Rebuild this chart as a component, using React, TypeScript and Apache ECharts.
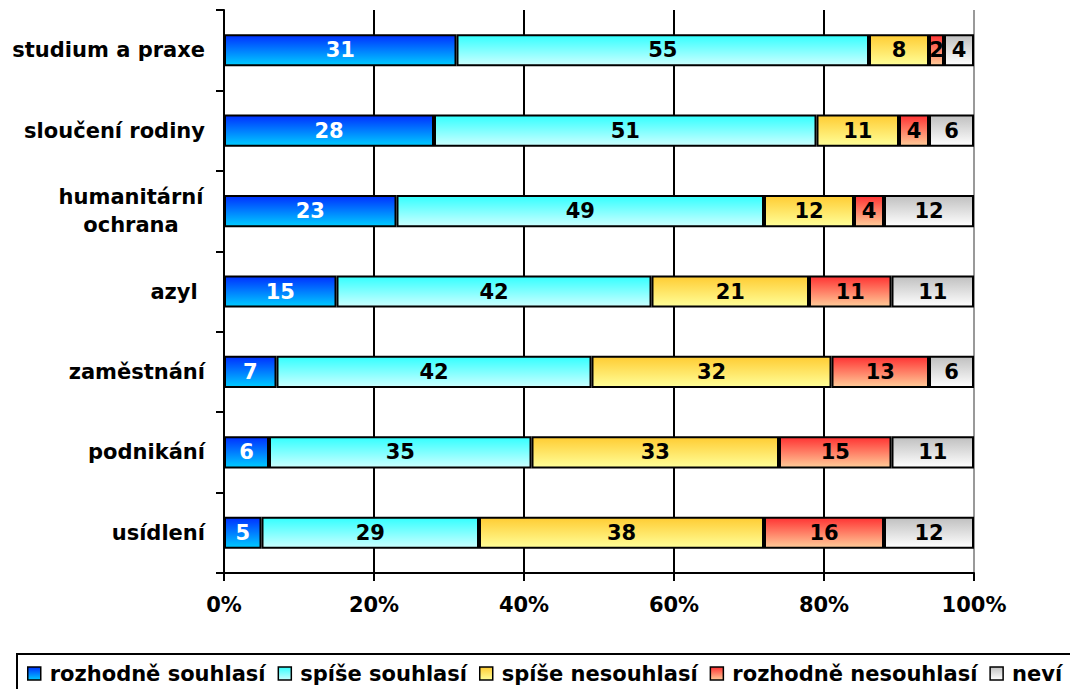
import React, { useEffect, useRef } from "react";
import * as echarts from "echarts";

const categories = [
  "studium a praxe",
  "sloučení rodiny",
  "humanitární\nochrana",
  "azyl ",
  "zaměstnání",
  "podnikání",
  "usídlení",
];
const seriesNames = [
  "rozhodně souhlasí",
  "spíše souhlasí",
  "spíše nesouhlasí",
  "rozhodně nesouhlasí",
  "neví",
];
const rozhodneSouhlasi = [31, 28, 23, 15, 7, 6, 5];
const spiseSouhlasi = [55, 51, 49, 42, 42, 35, 29];
const spiseNesouhlasi = [8, 11, 12, 21, 32, 33, 38];
const rozhodneNesouhlasi = [2, 4, 4, 11, 13, 15, 16];
const nevi = [4, 6, 12, 11, 6, 11, 12];
const xTicks = [0, 20, 40, 60, 80, 100];

const seriesValues = [rozhodneSouhlasi, spiseSouhlasi, spiseNesouhlasi, rozhodneNesouhlasi, nevi];
const gradients: [string, string][] = [
  ["#0030ff", "#00ccff"],
  ["#33ffff", "#ccffff"],
  ["#ffcc33", "#ffff99"],
  ["#ff3333", "#ffcc99"],
  ["#c0c0c0", "#ffffff"],
];
const labelColors = ["#ffffff", "#000000", "#000000", "#000000", "#000000"];

const FONT = "DejaVu Sans";

export default function App() {
  const ref = useRef<HTMLDivElement>(null);
  useEffect(() => {
    if (!ref.current) return;
    const chart = echarts.init(ref.current, null, { renderer: "svg" });
    chart.setOption({
      animation: false,
      textStyle: { fontFamily: FONT },
      grid: { left: 224, right: 96, top: 10, bottom: 116, containLabel: false },
      xAxis: {
        type: "value",
        min: xTicks[0],
        max: xTicks[xTicks.length - 1],
        interval: 20,
        axisLine: { show: true, lineStyle: { color: "#000", width: 2 } },
        axisTick: { show: true, length: 8, lineStyle: { color: "#000", width: 2 } },
        axisLabel: {
          formatter: "{value}%",
          color: "#000",
          fontWeight: "bold",
          fontSize: 21,
          fontFamily: FONT,
          margin: 21,
        },
        splitLine: {
          show: true,
          lineStyle: { color: ["#000", "#000", "#000", "#000", "#000", "#999"], width: 2 },
        },
      },
      yAxis: {
        type: "category",
        inverse: true,
        data: categories.map((c) =>
          c.includes("\n")
            ? { value: c, textStyle: { align: "center", padding: [0, 148, 0, 0] } }
            : c
        ),
        axisLine: { show: true, lineStyle: { color: "#000", width: 2 } },
        axisTick: { show: true, length: 8, lineStyle: { color: "#000", width: 2 } },
        axisLabel: {
          color: "#000",
          fontWeight: "bold",
          fontSize: 21,
          fontFamily: FONT,
          margin: 19,
          lineHeight: 28,
        },
      },
      legend: {
        left: 17,
        top: 654,
        width: 1200,
        orient: "horizontal",
        borderColor: "#000",
        borderWidth: 2,
        padding: [9, 20, 16, 10],
        itemGap: 12,
        itemWidth: 13,
        itemHeight: 13,
        icon: "rect",
        itemStyle: { borderColor: "#000", borderWidth: 1.5 },
        textStyle: {
          color: "#000",
          fontWeight: "bold",
          fontSize: 21,
          fontFamily: FONT,
          padding: [0, 0, 0, 4],
        },
        data: seriesNames,
      },
      series: seriesNames.map((name, i) => ({
        name,
        type: "bar",
        stack: "total",
        barWidth: "40%",
        data: seriesValues[i],
        itemStyle: {
          color: new echarts.graphic.LinearGradient(0, 0, 0, 1, [
            { offset: 0, color: gradients[i][0] },
            { offset: 1, color: gradients[i][1] },
          ]),
          borderColor: "#000",
          borderWidth: 2,
        },
        label: {
          show: true,
          position: "inside",
          color: labelColors[i],
          fontWeight: "bold",
          fontSize: 21,
          fontFamily: FONT,
        },
      })),
    });
    return () => chart.dispose();
  }, []);
  return <div ref={ref} style={{ width: 1070, height: 689, position: "absolute", left: 0, top: 0 }} />;
}
